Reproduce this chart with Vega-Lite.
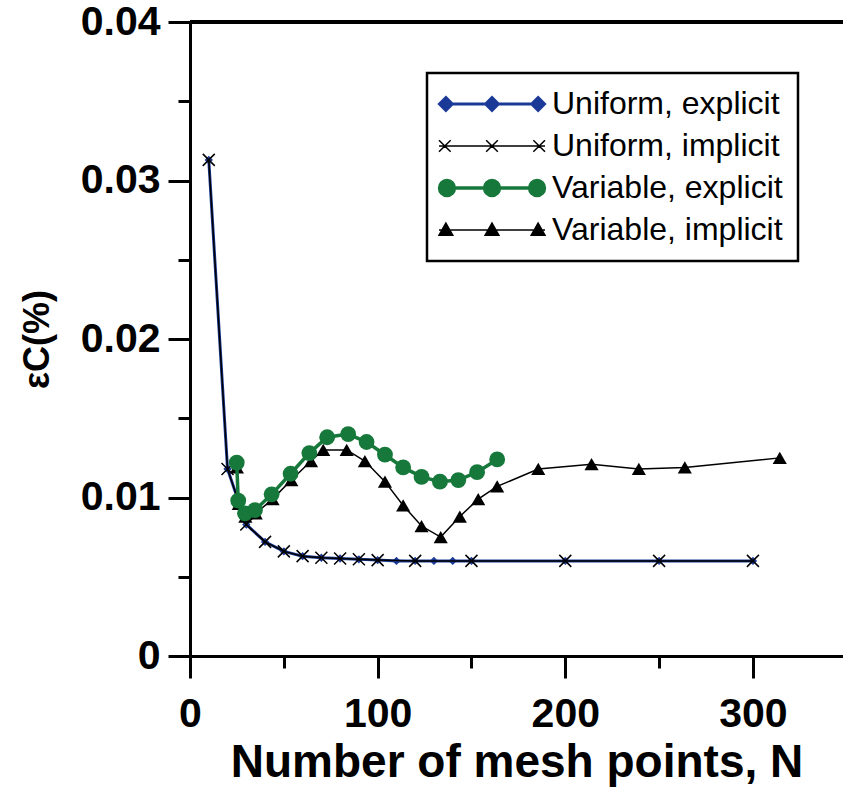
{
  "$schema": "https://vega.github.io/schema/vega-lite/v6.json",
  "autosize": "none",
  "width": 653,
  "height": 634,
  "padding": {"left": 190, "top": 22, "right": 0, "bottom": 136},
  "background": "white",
  "config": {"view": {"stroke": null}, "font": "Liberation Sans"},
  "datasets": {
    "ue": [
      {"series": "Uniform, explicit", "N": 10, "e": 0.0313},
      {"series": "Uniform, explicit", "N": 20, "e": 0.0118},
      {"series": "Uniform, explicit", "N": 30, "e": 0.0083},
      {"series": "Uniform, explicit", "N": 40, "e": 0.0072},
      {"series": "Uniform, explicit", "N": 50, "e": 0.0066},
      {"series": "Uniform, explicit", "N": 60, "e": 0.0063},
      {"series": "Uniform, explicit", "N": 70, "e": 0.0062},
      {"series": "Uniform, explicit", "N": 80, "e": 0.00615},
      {"series": "Uniform, explicit", "N": 90, "e": 0.0061},
      {"series": "Uniform, explicit", "N": 100, "e": 0.00605},
      {"series": "Uniform, explicit", "N": 110, "e": 0.006},
      {"series": "Uniform, explicit", "N": 120, "e": 0.006},
      {"series": "Uniform, explicit", "N": 130, "e": 0.006},
      {"series": "Uniform, explicit", "N": 140, "e": 0.006},
      {"series": "Uniform, explicit", "N": 150, "e": 0.006},
      {"series": "Uniform, explicit", "N": 200, "e": 0.006},
      {"series": "Uniform, explicit", "N": 250, "e": 0.006},
      {"series": "Uniform, explicit", "N": 300, "e": 0.006}
    ],
    "ui": [
      {"series": "Uniform, implicit", "N": 10, "e": 0.0313},
      {"series": "Uniform, implicit", "N": 20, "e": 0.0118},
      {"series": "Uniform, implicit", "N": 30, "e": 0.0083},
      {"series": "Uniform, implicit", "N": 40, "e": 0.0072},
      {"series": "Uniform, implicit", "N": 50, "e": 0.0066},
      {"series": "Uniform, implicit", "N": 60, "e": 0.0063},
      {"series": "Uniform, implicit", "N": 70, "e": 0.0062},
      {"series": "Uniform, implicit", "N": 80, "e": 0.00615},
      {"series": "Uniform, implicit", "N": 90, "e": 0.0061},
      {"series": "Uniform, implicit", "N": 100, "e": 0.00605},
      {"series": "Uniform, implicit", "N": 120, "e": 0.006},
      {"series": "Uniform, implicit", "N": 150, "e": 0.006},
      {"series": "Uniform, implicit", "N": 200, "e": 0.006},
      {"series": "Uniform, implicit", "N": 250, "e": 0.006},
      {"series": "Uniform, implicit", "N": 300, "e": 0.006}
    ],
    "vi": [
      {"series": "Variable, implicit", "N": 25, "e": 0.0119},
      {"series": "Variable, implicit", "N": 26, "e": 0.0096},
      {"series": "Variable, implicit", "N": 29.5, "e": 0.0088},
      {"series": "Variable, implicit", "N": 35, "e": 0.009},
      {"series": "Variable, implicit", "N": 44, "e": 0.0099},
      {"series": "Variable, implicit", "N": 54, "e": 0.0111},
      {"series": "Variable, implicit", "N": 64.5, "e": 0.0123},
      {"series": "Variable, implicit", "N": 71, "e": 0.013},
      {"series": "Variable, implicit", "N": 83.5, "e": 0.013},
      {"series": "Variable, implicit", "N": 93.2, "e": 0.0123},
      {"series": "Variable, implicit", "N": 103.9, "e": 0.011},
      {"series": "Variable, implicit", "N": 113.6, "e": 0.0095},
      {"series": "Variable, implicit", "N": 123.4, "e": 0.0082},
      {"series": "Variable, implicit", "N": 133.6, "e": 0.0075},
      {"series": "Variable, implicit", "N": 143.8, "e": 0.0088},
      {"series": "Variable, implicit", "N": 153.6, "e": 0.0099},
      {"series": "Variable, implicit", "N": 163.7, "e": 0.0107},
      {"series": "Variable, implicit", "N": 185.6, "e": 0.0118},
      {"series": "Variable, implicit", "N": 214, "e": 0.0121},
      {"series": "Variable, implicit", "N": 239.2, "e": 0.0118},
      {"series": "Variable, implicit", "N": 263.7, "e": 0.0119},
      {"series": "Variable, implicit", "N": 314.3, "e": 0.0125}
    ],
    "ve": [
      {"series": "Variable, explicit", "N": 24.9, "e": 0.0122},
      {"series": "Variable, explicit", "N": 25.7, "e": 0.0098},
      {"series": "Variable, explicit", "N": 29.3, "e": 0.009},
      {"series": "Variable, explicit", "N": 34.6, "e": 0.0092},
      {"series": "Variable, explicit", "N": 43.5, "e": 0.0102},
      {"series": "Variable, explicit", "N": 53.6, "e": 0.0115},
      {"series": "Variable, explicit", "N": 63.6, "e": 0.0128},
      {"series": "Variable, explicit", "N": 73.1, "e": 0.0138},
      {"series": "Variable, explicit", "N": 84.3, "e": 0.014},
      {"series": "Variable, explicit", "N": 94.1, "e": 0.0135},
      {"series": "Variable, explicit", "N": 103.9, "e": 0.0127},
      {"series": "Variable, explicit", "N": 113.6, "e": 0.0119},
      {"series": "Variable, explicit", "N": 123.4, "e": 0.0113},
      {"series": "Variable, explicit", "N": 133.2, "e": 0.011},
      {"series": "Variable, explicit", "N": 143, "e": 0.0111},
      {"series": "Variable, explicit", "N": 153, "e": 0.0116},
      {"series": "Variable, explicit", "N": 163.7, "e": 0.0124}
    ]
  },
  "resolve": {"axis": {"x": "independent", "y": "independent"}},
  "layer": [
    {
      "data": {"name": "ue"},
      "mark": {"type": "rule", "color": "black", "strokeWidth": 3},
      "encoding": {
        "y": {"datum": 0.04, "type": "quantitative", "scale": {"domain": [0, 0.04], "nice": false, "zero": true}, "axis": null}
      }
    },
    {
      "data": {"name": "ue"},
      "mark": {"type": "line", "strokeWidth": 3},
      "encoding": {
        "x": {"field": "N", "type": "quantitative", "scale": {"domain": [0, 348], "nice": false, "zero": false},
          "axis": {"orient": "bottom", "values": [0, 100, 200, 300], "grid": false, "domainColor": "black", "domainWidth": 3, "tickColor": "black", "tickWidth": 3, "tickSize": 22,
            "labelFont": "Liberation Sans", "labelFontSize": 41, "labelFontWeight": "bold", "labelColor": "black", "labelPadding": 16, "labelFlush": false, "labelOverlap": false,
            "title": "Number of mesh points, N", "titleFont": "Liberation Sans", "titleFontSize": 46, "titleFontWeight": "bold", "titleColor": "black", "titlePadding": 6}},
        "y": {"field": "e", "type": "quantitative", "scale": {"domain": [0, 0.04], "nice": false, "zero": true},
          "axis": {"orient": "left", "values": [0, 0.01, 0.02, 0.03, 0.04], "format": ".2~f", "grid": false, "domainColor": "black", "domainWidth": 3, "tickColor": "black", "tickWidth": 3, "tickSize": 22,
            "labelFont": "Liberation Sans", "labelFontSize": 41, "labelFontWeight": "bold", "labelColor": "black", "labelPadding": 8, "labelFlush": false, "labelOverlap": false,
            "title": "εC(%)", "titleFont": "Liberation Sans", "titleFontSize": 36, "titleFontWeight": "bold", "titleColor": "black", "titlePadding": 24}},
        "color": {"field": "series", "type": "nominal",
          "scale": {"domain": ["Uniform, explicit", "Uniform, implicit", "Variable, explicit", "Variable, implicit"], "range": ["#1b3a98", "#000000", "#16783b", "#000000"]},
          "legend": {"orient": "none", "legendX": 237, "legendY": 51, "title": null, "symbolSize": 11236,
            "labelFont": "Liberation Sans", "labelFontSize": 32, "labelColor": "black", "labelLimit": 500, "labelOffset": 9,
            "padding": 15, "rowPadding": 10, "fillColor": "white", "strokeColor": "black",
            "encode": {
              "legend": {"update": {"stroke": {"value": "black"}, "strokeWidth": {"value": 2.5}, "fill": {"value": "white"}}},
              "labels": {"update": {"x": {"value": 110}}},
              "symbols": {"update": {
                "x": {"value": 50},
                "shape": {"signal": "datum.value === 'Uniform, explicit' ? 'M-1,0L1,0M-0.87,-0.12L-0.75,0L-0.87,0.12L-0.99,0ZM0,-0.12L0.12,0L0,0.12L-0.12,0ZM0.87,-0.12L0.99,0L0.87,0.12L0.75,0Z' : datum.value === 'Uniform, implicit' ? 'M-1,0L1,0M-1,-0.11L-0.78,0.11M-1,0.11L-0.78,-0.11M-0.11,-0.11L0.11,0.11M-0.11,0.11L0.11,-0.11M0.78,-0.11L1,0.11M0.78,0.11L1,-0.11' : datum.value === 'Variable, explicit' ? 'M-1,0L1,0M-0.71,0A0.14,0.14,0,1,0,-0.99,0A0.14,0.14,0,1,0,-0.71,0ZM0.14,0A0.14,0.14,0,1,0,-0.14,0A0.14,0.14,0,1,0,0.14,0ZM0.99,0A0.14,0.14,0,1,0,0.71,0A0.14,0.14,0,1,0,0.99,0Z' : 'M-1,0L1,0M-0.87,-0.13L-0.74,0.1L-1,0.1ZM0,-0.13L0.13,0.1L-0.13,0.1ZM0.87,-0.13L1,0.1L0.74,0.1Z'"},
                "fill": {"signal": "datum.value === 'Uniform, explicit' ? '#1b3a98' : datum.value === 'Variable, explicit' ? '#16783b' : '#000000'"},
                "stroke": {"signal": "datum.value === 'Uniform, explicit' ? '#1b3a98' : datum.value === 'Variable, explicit' ? '#16783b' : '#000000'"},
                "strokeWidth": {"signal": "datum.value === 'Uniform, explicit' ? 3 : datum.value === 'Variable, explicit' ? 3.5 : 1.5"},
                "opacity": {"value": 1},
                "fillOpacity": {"value": 1},
                "strokeOpacity": {"value": 1}
              }}
            }}
        }
      }
    },
    {
      "data": {"name": "ue"},
      "mark": {"type": "point", "shape": "diamond", "filled": true, "color": "#1b3a98", "size": 70, "opacity": 1},
      "encoding": {
        "x": {"field": "N", "type": "quantitative", "scale": {"domain": [0, 348], "nice": false, "zero": false},
          "axis": {"orient": "bottom", "values": [50, 150, 250], "grid": false, "domain": false, "labels": false, "tickColor": "black", "tickWidth": 3, "tickSize": 12, "title": null}},
        "y": {"field": "e", "type": "quantitative", "scale": {"domain": [0, 0.04], "nice": false, "zero": true},
          "axis": {"orient": "left", "values": [0.005, 0.015, 0.025, 0.035], "grid": false, "domain": false, "labels": false, "tickColor": "black", "tickWidth": 3, "tickSize": 12, "title": null}}
      }
    },
    {
      "data": {"name": "ui"},
      "mark": {"type": "line", "color": "black", "strokeWidth": 1.5},
      "encoding": {
        "x": {"field": "N", "type": "quantitative", "scale": {"domain": [0, 348], "nice": false, "zero": false}, "axis": null},
        "y": {"field": "e", "type": "quantitative", "scale": {"domain": [0, 0.04], "nice": false, "zero": true}, "axis": null}
      }
    },
    {
      "data": {"name": "ui"},
      "mark": {"type": "point", "shape": "M-1,-1L1,1M-1,1L1,-1", "filled": false, "stroke": "black", "strokeWidth": 1.5, "size": 144, "opacity": 1},
      "encoding": {
        "x": {"field": "N", "type": "quantitative", "scale": {"domain": [0, 348], "nice": false, "zero": false}, "axis": null},
        "y": {"field": "e", "type": "quantitative", "scale": {"domain": [0, 0.04], "nice": false, "zero": true}, "axis": null}
      }
    },
    {
      "data": {"name": "vi"},
      "mark": {"type": "line", "color": "black", "strokeWidth": 1.5},
      "encoding": {
        "x": {"field": "N", "type": "quantitative", "scale": {"domain": [0, 348], "nice": false, "zero": false}, "axis": null},
        "y": {"field": "e", "type": "quantitative", "scale": {"domain": [0, 0.04], "nice": false, "zero": true}, "axis": null}
      }
    },
    {
      "data": {"name": "vi"},
      "mark": {"type": "point", "shape": "triangle-up", "filled": true, "color": "black", "size": 200, "opacity": 1},
      "encoding": {
        "x": {"field": "N", "type": "quantitative", "scale": {"domain": [0, 348], "nice": false, "zero": false}, "axis": null},
        "y": {"field": "e", "type": "quantitative", "scale": {"domain": [0, 0.04], "nice": false, "zero": true}, "axis": null}
      }
    },
    {
      "data": {"name": "ve"},
      "mark": {"type": "line", "color": "#16783b", "strokeWidth": 3.5},
      "encoding": {
        "x": {"field": "N", "type": "quantitative", "scale": {"domain": [0, 348], "nice": false, "zero": false}, "axis": null},
        "y": {"field": "e", "type": "quantitative", "scale": {"domain": [0, 0.04], "nice": false, "zero": true}, "axis": null}
      }
    },
    {
      "data": {"name": "ve"},
      "mark": {"type": "circle", "color": "#16783b", "size": 250, "opacity": 1},
      "encoding": {
        "x": {"field": "N", "type": "quantitative", "scale": {"domain": [0, 348], "nice": false, "zero": false}, "axis": null},
        "y": {"field": "e", "type": "quantitative", "scale": {"domain": [0, 0.04], "nice": false, "zero": true}, "axis": null}
      }
    }
  ]
}
